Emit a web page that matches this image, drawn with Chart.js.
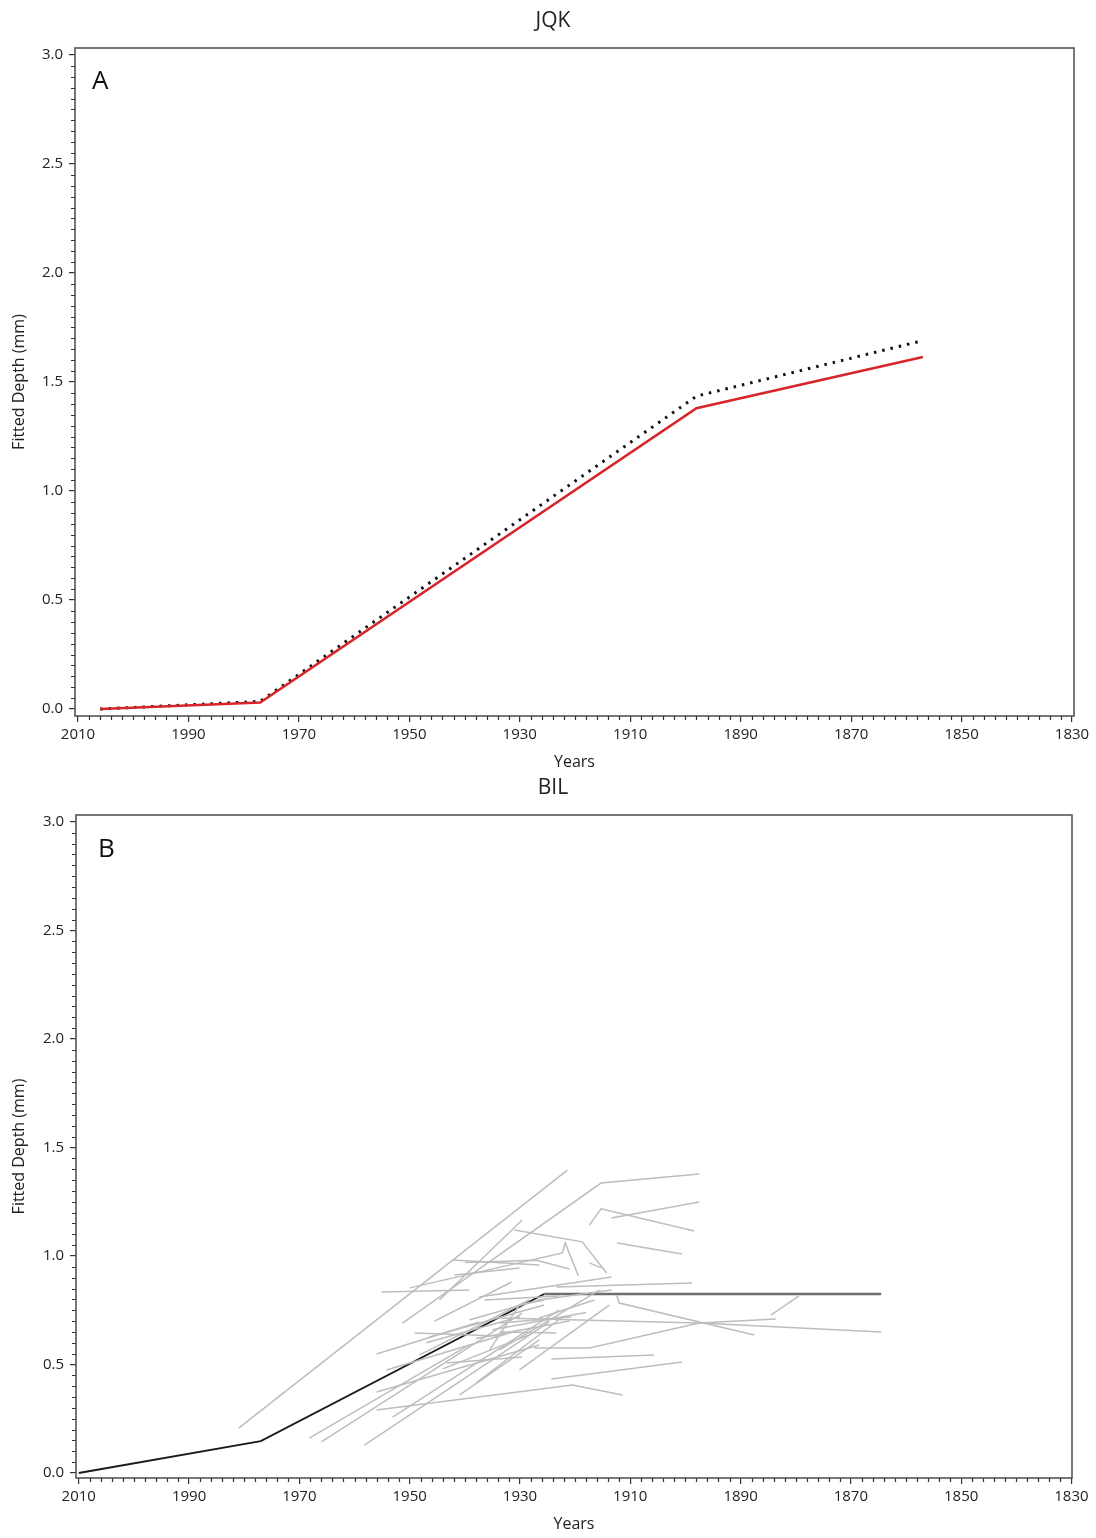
<!DOCTYPE html>
<html>
<head>
<meta charset="utf-8">
<script src="https://cdn.jsdelivr.net/npm/chart.js@4.4.0/dist/chart.umd.min.js"></script>
<style>
body{margin:0;background:#fff;width:1096px;height:1538px;position:relative;overflow:hidden;font-family:"Open Sans",sans-serif;color:#222}
canvas{position:absolute;left:0}
#cA{top:0}
#cB{top:772px}
.ttl{position:absolute;width:200px;text-align:center;font-size:21px;line-height:1}
.lbl{position:absolute;font-size:26px;line-height:1;color:#111}
</style>
</head>
<body>
<canvas id="cA" width="1096" height="772"></canvas>
<canvas id="cB" width="1096" height="766"></canvas>
<div class="ttl" style="left:453px;top:9px">JQK</div>
<div class="ttl" style="left:453px;top:776px">BIL</div>
<div class="lbl" style="left:92px;top:66px">A</div>
<div class="lbl" style="left:98px;top:834px">B</div>
<script>
var yearTicks = [2010, 1990, 1970, 1950, 1930, 1910, 1890, 1870, 1850, 1830];
var depthTicks = [0, 0.5, 1, 1.5, 2, 2.5, 3];

// panel A - JQK
var jqkYears = [2006, 1977, 1898, 1857];
var jqkFitted = [0, 0.03, 1.38, 1.615];
var jqkDotted = [0, 0.035, 1.435, 1.69];

// panel B - BIL, mean curve
var bilYears = [2010, 1977, 1925.6, 1864.5];
var bilFitted = [0, 0.147, 0.825, 0.825];

// panel B - individual cores
var coreYears = [
	[1981.0, 1921.4],
	[1951.3, 1915.3, 1897.5],
	[1917.4, 1915.3, 1898.4],
	[1913.4, 1897.5],
	[1912.4, 1900.6],
	[1931.0, 1918.7, 1914.3],
	[1950.0, 1922.3, 1921.8, 1919.4],
	[1942.2, 1926.5],
	[1955.1, 1939.2],
	[1944.6, 1929.6],
	[1923.4, 1898.8],
	[1937.4, 1913.4],
	[1912.5, 1912.0, 1887.5],
	[1927.4, 1917.4, 1897.5, 1883.6],
	[1933.7, 1897.5, 1864.5],
	[1884.5, 1879.4],
	[1924.3, 1905.7],
	[1924.3, 1900.6],
	[1956.0, 1920.5, 1911.4],
	[1956.0, 1937.4],
	[1968.2, 1939.2],
	[1966.0, 1929.6],
	[1958.2, 1924.7],
	[1954.2, 1930.1],
	[1956.0, 1926.5],
	[1953.1, 1922.9],
	[1943.3, 1929.6],
	[1937.9, 1922.3],
	[1946.4, 1925.6],
	[1939.2, 1926.5, 1913.4],
	[1936.4, 1922.9],
	[1933.7, 1915.6],
	[1941.9, 1930.1],
	[1935.5, 1930.1, 1925.6],
	[1948.2, 1928.3],
	[1941.0, 1926.5],
	[1930.1, 1913.8],
	[1926.5, 1916.5],
	[1933.7, 1920.7],
	[1933.7, 1923.4],
	[1917.4, 1915.3],
	[1949.1, 1933.7],
	[1947.0, 1930.0],
	[1944.0, 1928.0],
	[1938.0, 1921.0],
	[1935.0, 1918.0],
	[1940.0, 1927.0, 1921.0],
	[1945.5, 1931.5]
];
var coreDepths = [
	[0.207, 1.396],
	[0.691, 1.336, 1.378],
	[1.143, 1.217, 1.115],
	[1.175, 1.249],
	[1.06, 1.009],
	[1.12, 1.065, 0.922],
	[0.853, 1.014, 1.06, 0.908],
	[0.982, 0.959],
	[0.834, 0.843],
	[0.797, 1.166],
	[0.857, 0.876],
	[0.811, 0.903],
	[0.82, 0.783, 0.636],
	[0.576, 0.576, 0.691, 0.71],
	[0.714, 0.691, 0.65],
	[0.728, 0.816],
	[0.525, 0.544],
	[0.433, 0.512],
	[0.29, 0.406, 0.359],
	[0.548, 0.696],
	[0.161, 0.59],
	[0.143, 0.737],
	[0.129, 0.696],
	[0.475, 0.659],
	[0.373, 0.59],
	[0.258, 0.751],
	[0.507, 0.535],
	[0.415, 0.719],
	[0.627, 0.774],
	[0.705, 0.797, 0.843],
	[0.797, 0.816],
	[0.567, 0.843],
	[0.912, 0.945],
	[0.567, 0.774, 0.797],
	[0.544, 0.797],
	[0.359, 0.613],
	[0.475, 0.774],
	[0.714, 0.797],
	[0.691, 0.719],
	[0.65, 0.645],
	[0.968, 0.945],
	[0.645, 0.631],
	[0.60, 0.72],
	[0.48, 0.64],
	[0.62, 0.70],
	[0.66, 0.74],
	[0.97, 0.98, 0.94],
	[0.70, 0.88]
];

var FONT = '"Open Sans", sans-serif';

function pts(xs, ys){
	var out = [];
	for(var i = 0; i < xs.length; i++){
		out.push({x: xs[i], y: ys[i]});
	}
	return out;
}

// box round the plot + minor ticks
var frameTicks = {
	id: 'frameTicks',
	afterDraw: function(chart){
		var ctx = chart.ctx, a = chart.chartArea, x = chart.scales.x, y = chart.scales.y;
		ctx.save();
		ctx.strokeStyle = '#555';
		ctx.lineWidth = 1.6;
		ctx.strokeRect(a.left, a.top, a.right - a.left, a.bottom - a.top);
		ctx.strokeStyle = '#333';
		ctx.lineWidth = 1.2;
		ctx.beginPath();
		for(var yr = 1830; yr <= 2010; yr += 2){
			if(yr % 20 === 10) continue;
			var px = Math.round(x.getPixelForValue(yr)) + 0.5;
			ctx.moveTo(px, a.bottom);
			ctx.lineTo(px, a.bottom + 4);
		}
		for(var k = 0; k <= 60; k++){
			if(k % 10 === 0) continue;
			var py = Math.round(y.getPixelForValue(k * 0.05)) + 0.5;
			ctx.moveTo(a.left, py);
			ctx.lineTo(a.left - 4, py);
		}
		ctx.stroke();
		ctx.restore();
	}
};

function makeOptions(cfg){
	return {
		responsive: false,
		animation: false,
		layout: {padding: {top: cfg.top, right: cfg.right, left: 0, bottom: 0}},
		plugins: {legend: {display: false}, tooltip: {enabled: false}},
		elements: {point: {radius: 0}, line: {tension: 0}},
		scales: {
			x: {
				type: 'linear',
				reverse: true,
				min: cfg.xMin,
				max: cfg.xMax,
				afterBuildTicks: function(s){ s.ticks = yearTicks.map(function(v){ return {value: v}; }); },
				afterFit: function(s){ s.height = cfg.xHeight; },
				ticks: {autoSkip: false, maxRotation: 0, padding: 4, color: '#222', font: {family: FONT, size: 15},
					callback: function(v){ return String(v); }},
				grid: {drawOnChartArea: false, drawTicks: true, tickLength: 6, color: '#333', lineWidth: 1.2},
				border: {display: false},
				title: {display: true, text: 'Years', color: '#222', font: {family: FONT, size: 16}, padding: {top: 0, bottom: cfg.xTitlePad}}
			},
			y: {
				type: 'linear',
				min: cfg.yMin,
				max: cfg.yMax,
				afterBuildTicks: function(s){ s.ticks = depthTicks.map(function(v){ return {value: v}; }); },
				afterFit: function(s){ s.width = cfg.yWidth; },
				ticks: {padding: 6, color: '#222', font: {family: FONT, size: 15},
					callback: function(v){ return v.toFixed(1); }},
				grid: {drawOnChartArea: false, drawTicks: true, tickLength: 6, color: '#333', lineWidth: 1.2},
				border: {display: false},
				title: {display: true, text: 'Fitted Depth (mm)', color: '#222', font: {family: FONT, size: 16}, padding: {top: 10, bottom: 0}}
			}
		}
	};
}

new Chart(document.getElementById('cA'), {
	type: 'line',
	data: {
		datasets: [{
			data: pts(jqkYears, jqkFitted),
			borderColor: '#d7262b',
			borderWidth: 2.6,
			fill: false
		}, {
			data: pts(jqkYears, jqkDotted),
			borderColor: '#111',
			borderWidth: 3,
			borderDash: [2.5, 6],
			fill: false
		}]
	},
	options: makeOptions({top: 48, right: 22, xMin: 1829.64, xMax: 2010.54, yMin: -0.032, yMax: 3.032, xHeight: 56, yWidth: 75, xTitlePad: 0}),
	plugins: [frameTicks]
});

var bilSets = [];
for(var i = 0; i < coreYears.length; i++){
	bilSets.push({
		data: pts(coreYears[i], coreDepths[i]),
		borderColor: '#bdbdbd',
		borderWidth: 1.5,
		fill: false
	});
}
bilSets.push({
	data: pts(bilYears, bilFitted),
	borderColor: '#1a1a1a',
	borderWidth: 1.8,
	fill: false,
	segment: {
		borderColor: function(c){ return c.p0DataIndex >= 2 ? '#6e6e6e' : '#1a1a1a'; },
		borderWidth: function(c){ return c.p0DataIndex >= 2 ? 2.4 : 1.8; }
	}
});

new Chart(document.getElementById('cB'), {
	type: 'line',
	data: {datasets: bilSets},
	options: makeOptions({top: 43, right: 24, xMin: 1829.9, xMax: 2010.5, yMin: -0.023, yMax: 3.032, xHeight: 60, yWidth: 76, xTitlePad: 4}),
	plugins: [frameTicks]
});
</script>
</body>
</html>
